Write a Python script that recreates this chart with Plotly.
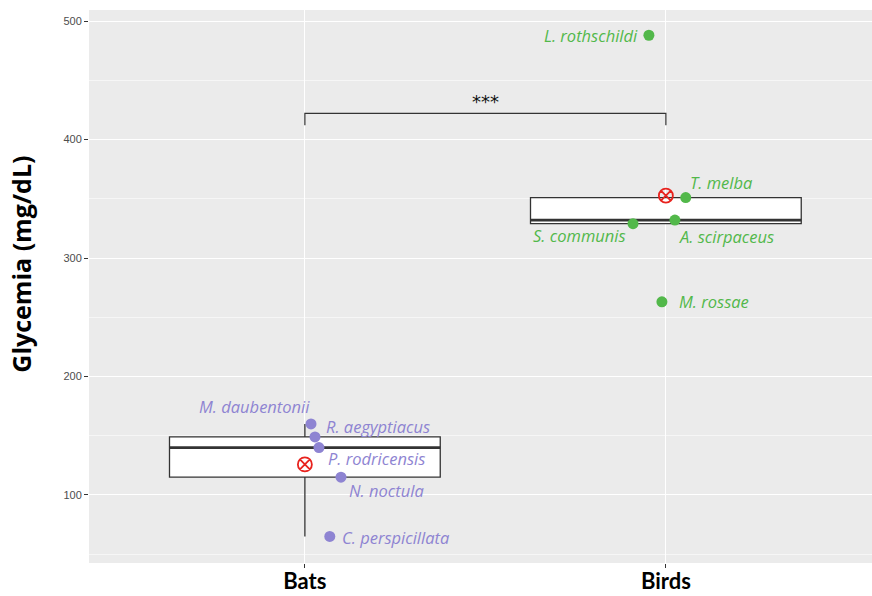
import numpy as np
import plotly.graph_objects as go

# ---- data ----
groups = ["Bats", "Birds"]
group_pos = [1, 2]

bat_species = ["M. daubentonii", "R. aegyptiacus", "P. rodricensis", "N. noctula", "C. perspicillata"]
bat_glycemia = [160, 149, 140, 115, 65]
bat_jitter = [0.017, 0.028, 0.039, 0.10, 0.069]

bird_species = ["L. rothschildi", "T. melba", "A. scirpaceus", "S. communis", "M. rossae"]
bird_glycemia = [488, 351, 332, 329, 263]
bird_jitter = [-0.047, 0.055, 0.025, -0.091, -0.011]

# label placement (pixel offsets from the point, ggrepel-like)
bat_lab_anchor = ["right", "left", "left", "left", "left"]
bat_lab_dx = [1, 9, 7, 6, 10]
bat_lab_dy = [17, 10, -11, -13, -1]
bird_lab_anchor = ["right", "left", "left", "right", "left"]
bird_lab_dx = [-9, 2, 2, -5, 15]
bird_lab_dy = [0, 15, -16, -12, 0]

signif_label = "***"
bracket_y = 422
bracket_drop = 10

y_ticks = [100, 200, 300, 400, 500]
y_title = "Glycemia (mg/dL)"

BAT_COL = "#8E84D2"
BIRD_COL = "#52B84A"
BOX_W = 0.75


def box_stats(vals):
    v = np.asarray(vals, dtype=float)
    q1, med, q3 = np.percentile(v, [25, 50, 75])
    iqr = q3 - q1
    lo = v[v >= q1 - 1.5 * iqr].min()
    hi = v[v <= q3 + 1.5 * iqr].max()
    return q1, med, q3, lo, hi


fig = go.Figure()

sets = [
    (group_pos[0], bat_glycemia, bat_jitter, bat_species, BAT_COL, bat_lab_anchor, bat_lab_dx, bat_lab_dy),
    (group_pos[1], bird_glycemia, bird_jitter, bird_species, BIRD_COL, bird_lab_anchor, bird_lab_dx, bird_lab_dy),
]

annotations = []
for pos, vals, jit, names, col, anc, dx, dy in sets:
    q1, med, q3, lo, hi = box_stats(vals)
    fig.add_trace(go.Box(
        x=[pos], q1=[q1], median=[med], q3=[q3], lowerfence=[lo], upperfence=[hi],
        width=BOX_W, whiskerwidth=0, boxpoints=False,
        fillcolor="white", line=dict(color="#333333", width=1.3),
        hoverinfo="skip", showlegend=False,
    ))
    fig.add_trace(go.Scatter(
        x=[pos - BOX_W / 2, pos + BOX_W / 2], y=[med, med], mode="lines",
        line=dict(color="#333333", width=2.6), showlegend=False, hoverinfo="skip",
    ))
    fig.add_trace(go.Scatter(
        x=[pos], y=[float(np.mean(vals))], mode="markers",
        marker=dict(symbol="circle-x-open", size=14, color="#E8231E", line=dict(width=1.8, color="#E8231E")),
        showlegend=False, hoverinfo="skip",
    ))
    xs = [pos + j for j in jit]
    fig.add_trace(go.Scatter(
        x=xs, y=vals, mode="markers",
        marker=dict(size=11, color=col), showlegend=False,
        text=names, hoverinfo="text+y",
    ))
    for x, y, n, a, sx, sy in zip(xs, vals, names, anc, dx, dy):
        annotations.append(dict(
            x=x, y=y, xref="x", yref="y", text=f"<i>{n}</i>", showarrow=False,
            xanchor=a, yanchor="middle", xshift=sx, yshift=sy,
            font=dict(family="Open Sans", size=16.5, color=col),
        ))

# significance bracket
fig.add_trace(go.Scatter(
    x=[group_pos[0], group_pos[0], group_pos[1], group_pos[1]],
    y=[bracket_y - bracket_drop, bracket_y, bracket_y, bracket_y - bracket_drop],
    mode="lines", line=dict(color="#333333", width=1.2),
    showlegend=False, hoverinfo="skip",
))
annotations.append(dict(
    x=(group_pos[0] + group_pos[1]) / 2, y=bracket_y, xref="x", yref="y",
    text=signif_label, showarrow=False, yanchor="bottom", yshift=-1,
    font=dict(family="DejaVu Sans", size=18, color="#111111"),
))

# y-axis title (placed as in the reference, slightly above panel centre)
annotations.append(dict(
    x=-0.087, y=0.541, xref="paper", yref="paper", text=f"<b>{y_title}</b>",
    textangle=-90, showarrow=False, xanchor="center", yanchor="middle",
    font=dict(family="Open Sans", size=25, color="black"),
))

fig.update_layout(
    width=872, height=596,
    margin=dict(l=89, r=0, t=10, b=33, autoexpand=False),
    paper_bgcolor="white", plot_bgcolor="#EBEBEB",
    annotations=annotations,
    xaxis=dict(
        range=[0.402, 2.571], tickvals=group_pos, ticktext=groups,
        automargin=False,
        showgrid=True, gridcolor="white", gridwidth=1.2, zeroline=False,
        ticks="outside", ticklen=4, tickcolor="#333333",
        ticklabelstandoff=-5,
        tickfont=dict(family="Lato", size=22, color="black", weight="bold"),
    ),
    yaxis=dict(
        range=[42.6, 509.3], tickvals=y_ticks,
        automargin=False,
        showgrid=True, gridcolor="white", gridwidth=1.2, zeroline=False,
        minor=dict(dtick=50, tick0=0, showgrid=True, gridcolor="#F6F6F6", gridwidth=0.7),
        ticks="outside", ticklen=4, tickcolor="#333333",
        tickfont=dict(family="Liberation Sans", size=11, color="#4D4D4D"),
    ),
)

fig.write_html(
    "out.html",
    config={"displayModeBar": False},
    post_script="document.body.style.margin='0';document.body.style.overflow='hidden';",
)
